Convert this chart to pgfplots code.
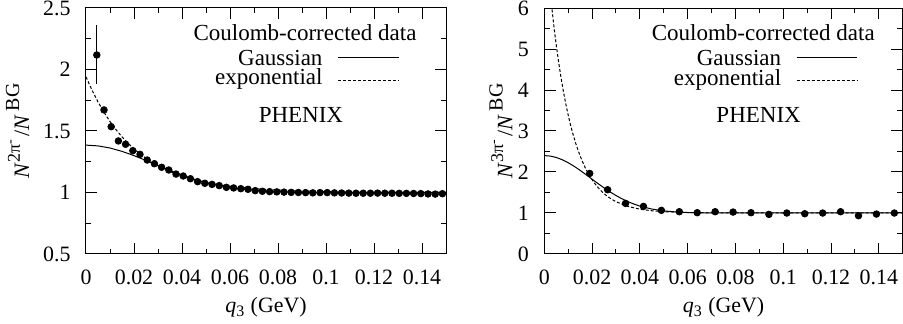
\documentclass[border=0pt,11pt]{standalone}
\usepackage{fontspec}
\setmainfont{Liberation Serif}
\usepackage{pgfplots}
\usepackage{pgfplotstable}
\pgfplotsset{compat=1.18}

\pgfplotstableread{
x y e
0.0045 2.118 0.24
0.0075 1.671 0
0.0105 1.535 0
0.0135 1.419 0
0.0165 1.392 0
0.0195 1.340 0
0.0225 1.310 0
0.0255 1.264 0
0.0285 1.234 0
0.0315 1.205 0
0.0345 1.183 0
0.0375 1.150 0
0.0405 1.134 0
0.0435 1.112 0
0.0465 1.088 0
0.0495 1.075 0
0.0525 1.066 0
0.0555 1.056 0
0.0585 1.042 0
0.0615 1.037 0
0.0645 1.031 0
0.0675 1.026 0
0.0705 1.015 0
0.0735 1.010 0
0.0765 1.007 0
0.0795 1.005 0
0.0825 1.003 0
0.0855 1.001 0
0.0885 1.000 0
0.0915 0.999 0
0.0945 0.997 0
0.0975 0.999 0
0.1005 0.999 0
0.1035 0.997 0
0.1065 0.996 0
0.1095 0.995 0
0.1125 0.994 0
0.1155 0.994 0
0.1185 0.994 0
0.1215 0.995 0
0.1245 0.994 0
0.1275 0.994 0
0.1305 0.993 0
0.1335 0.993 0
0.1365 0.992 0
0.1395 0.991 0
0.1425 0.988 0
0.1455 0.987 0
0.1485 0.990 0
}\twopi

\pgfplotstableread{
x y
0.019 1.965
0.0265 1.567
0.034 1.234
0.0415 1.161
0.049 1.064
0.0565 1.031
0.064 1.007
0.0715 1.031
0.079 1.023
0.0865 1.007
0.094 0.966
0.1015 0.999
0.109 0.982
0.1165 0.999
0.124 1.031
0.1315 0.934
0.139 0.974
0.1465 0.999
}\threepi

\newcommand{\ylab}[1]{\fontsize{11}{13}\selectfont\textit{N}\raisebox{0.42em}{\fontsize{9}{9}\selectfont #1π\raisebox{0.3em}{\fontsize{7}{7}\selectfont -}}\,/\textit{N}\raisebox{0.45em}{\fontsize{10}{10}\selectfont\,BG}}
\newcommand{\lf}{\fontsize{11.5}{13}\selectfont}

\tikzset{
  dat/.style={only marks, mark=*, mark size=1.65pt, black},
  gau/.style={black, line width=0.5pt},
  expo/.style={black, line width=0.5pt, dash pattern=on 1.5pt off 1pt},
}
\pgfplotsset{
  common/.style={
    scale only axis, height=123pt,
    xmin=0, xmax=0.15,
    xtick={0,0.02,0.04,0.06,0.08,0.1,0.12,0.14},
    minor x tick num=1, minor y tick num=1,
    scaled x ticks=false, scaled y ticks=false,
    tick align=inside,
    major tick length=5.7pt, minor tick length=2.7pt,
    axis line style={line width=0.5pt},
    every tick/.style={black, line width=0.5pt},
    /pgf/number format/assume math mode=true,
    /pgf/number format/fixed,
    /pgf/number format/precision=2,
    xticklabel style={anchor=base, yshift=-15.5pt},
    yticklabel style={anchor=east, xshift=-3.9pt},
    xlabel={\textit{q}\textsubscript{3} (GeV)},
    xlabel style={at={(axis description cs:0.5,0)}, anchor=base, yshift=-29.5pt},
  },
}

\begin{document}
\begin{tikzpicture}
\useasboundingbox (-43pt,-35pt) rectangle (408.5pt,127pt);
\begin{axis}[common, at={(0pt,0pt)}, anchor=south west, width=180pt,
  ymin=0.5, ymax=2.5, ytick={0.5,1,1.5,2,2.5},
  ylabel={\ylab{2}},
  ylabel style={at={(axis description cs:-0.19,0.5)}, anchor=center}]
\addplot[dat, error bars/.cd, y dir=both, y explicit, error mark=none,
  error bar style={line width=0.5pt}] table[x=x, y=y, y error=e] {\twopi};
\addplot[gau] coordinates {
(0,1.385) (0.005,1.379) (0.01,1.3617) (0.015,1.3345) (0.02,1.2998) (0.025,1.2605)
(0.03,1.2194) (0.035,1.1790) (0.04,1.1416) (0.045,1.1086) (0.05,1.0807) (0.055,1.0581)
(0.06,1.0406) (0.065,1.0275) (0.07,1.0180) (0.075,1.0114) (0.08,1.0070) (0.085,1.0042)
(0.09,1.0024) (0.095,1.0014) (0.1,1.0007) (0.11,1.0002) (0.12,1.0) (0.15,1.0)};
\addplot[expo] coordinates {
(0,1.94) (0.0025,1.832) (0.005,1.7366) (0.0075,1.652) (0.01,1.577) (0.0125,1.5109)
(0.015,1.4522) (0.0175,1.4003) (0.02,1.3544) (0.0225,1.3137) (0.025,1.2777) (0.0275,1.2458)
(0.03,1.2175) (0.035,1.1705) (0.04,1.1336) (0.045,1.1047) (0.05,1.0820) (0.055,1.0643)
(0.06,1.0504) (0.07,1.0309) (0.08,1.0190) (0.09,1.0117) (0.1,1.0072) (0.11,1.0044)
(0.12,1.0027) (0.13,1.0017) (0.14,1.001) (0.15,1.0006)};
\node[anchor=base east, inner sep=0pt, font=\lf] at (axis description cs:0.919,0.867) {Coulomb-corrected data};
\node[anchor=base east, inner sep=0pt, font=\lf] at (axis description cs:0.658,0.768) {Gaussian};
\node[anchor=base east, inner sep=0pt, font=\lf] at (axis description cs:0.658,0.687) {exponential};
\draw[gau] (axis description cs:0.700,0.800) -- (axis description cs:0.869,0.800);
\draw[expo] (axis description cs:0.700,0.707) -- (axis description cs:0.869,0.707);
\node[anchor=base, inner sep=0pt, font=\lf] at (axis description cs:0.597,0.534) {PHENIX};
\end{axis}

\begin{axis}[common, at={(229.15pt,0pt)}, anchor=south west, width=179.2pt,
  ymin=0, ymax=6, ytick={0,1,2,3,4,5,6},
  ylabel={\ylab{3}},
  ylabel style={at={(axis description cs:-0.121,0.5)}, anchor=center}]
\addplot[dat] table[x=x, y=y] {\threepi};
\addplot[gau] coordinates {
(0,2.40) (0.0025,2.3885) (0.005,2.3545) (0.0075,2.2996) (0.01,2.2265) (0.0125,2.1388)
(0.015,2.0398) (0.0175,1.9338) (0.02,1.825) (0.0225,1.7168) (0.025,1.6126) (0.0275,1.515)
(0.03,1.4259) (0.0325,1.3464) (0.035,1.2771) (0.0375,1.218) (0.04,1.1687) (0.045,1.0962)
(0.05,1.0514) (0.055,1.0256) (0.06,1.012) (0.065,1.0053) (0.07,1.0022) (0.08,1.0003) (0.15,1.0)};
\addplot[expo] coordinates {
(0.003,6.085) (0.004,5.564) (0.005,5.096) (0.006,4.677) (0.007,4.301) (0.008,3.963)
(0.009,3.660) (0.010,3.387) (0.011,3.143) (0.012,2.923) (0.013,2.727) (0.014,2.550)
(0.015,2.391) (0.016,2.249) (0.017,2.121) (0.018,2.006) (0.019,1.903) (0.020,1.811)
(0.022,1.653) (0.024,1.526) (0.026,1.424) (0.028,1.342) (0.030,1.275) (0.035,1.160)
(0.04,1.093) (0.045,1.0545) (0.05,1.032) (0.06,1.011) (0.07,1.004) (0.08,1.001) (0.15,1.0)};
\node[anchor=base east, inner sep=0pt, font=\lf] at (axis description cs:0.923,0.867) {Coulomb-corrected data};
\node[anchor=base east, inner sep=0pt, font=\lf] at (axis description cs:0.662,0.768) {Gaussian};
\node[anchor=base east, inner sep=0pt, font=\lf] at (axis description cs:0.662,0.687) {exponential};
\draw[gau] (axis description cs:0.704,0.800) -- (axis description cs:0.873,0.800);
\draw[expo] (axis description cs:0.704,0.707) -- (axis description cs:0.873,0.707);
\node[anchor=base, inner sep=0pt, font=\lf] at (axis description cs:0.598,0.534) {PHENIX};
\end{axis}
\end{tikzpicture}
\end{document}
